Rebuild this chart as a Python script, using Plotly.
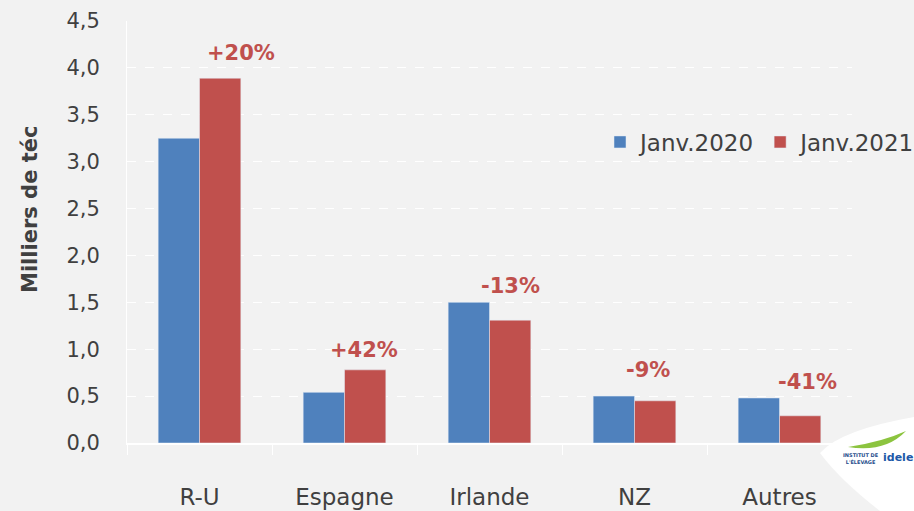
import plotly.graph_objects as go

# --- data ---
pays = ["R-U", "Espagne", "Irlande", "NZ", "Autres"]
janv_2020 = [3.25, 0.54, 1.50, 0.50, 0.48]
janv_2021 = [3.89, 0.78, 1.31, 0.45, 0.29]
evolution = ["+20%", "+42%", "-13%", "-9%", "-41%"]

# label offsets (px) relative to category centre / top of red bar
lab_dx = [41, 19, 21, 13, 28]
lab_dy = [25, 20, 34, 31, 34]

BLUE = "#4f81bd"
RED = "#c0504d"
TXT = "#404040"
FONT = "DejaVu Sans"

fig = go.Figure()
fig.add_trace(go.Bar(x=pays, y=janv_2020, name="Janv.2020", marker_color=BLUE))
fig.add_trace(go.Bar(x=pays, y=janv_2021, name="Janv.2021", marker_color=RED))

for p, v, t, dx, dy in zip(pays, janv_2021, evolution, lab_dx, lab_dy):
    fig.add_annotation(x=p, y=v, text="<b>" + t + "</b>", showarrow=False,
                       xshift=dx, yshift=dy,
                       font=dict(color=RED, size=21, family=FONT))

# plot area in px: x 127..852, y 21..443
def px(x, y):
    return (x - 127) / 725, (443 - y) / 422

# y axis title as annotation (sits a bit above the plot centre)
fig.add_annotation(xref="paper", yref="paper", x=px(30, 210)[0], y=px(30, 210)[1],
                   xanchor="center", yanchor="middle",
                   text="<b>Milliers de téc</b>", textangle=-90, showarrow=False,
                   font=dict(size=21, color=TXT, family=FONT))

# idele logo (rough)
path = "M %f,%f " % px(820, 453)
path += "Q %f,%f %f,%f " % (*px(840, 430), *px(914, 417))
path += "L %f,%f " % px(914, 511)
path += "L %f,%f " % px(880, 511)
path += "Q %f,%f %f,%f Z" % (*px(840, 480), *px(820, 453))
fig.add_shape(type="path", xref="paper", yref="paper", path=path,
              fillcolor="white", line=dict(width=0), layer="above")
swoosh = "M %f,%f Q %f,%f %f,%f Q %f,%f %f,%f Z" % (
    *px(848, 447), *px(882, 442), *px(906, 431),
    *px(885, 453), *px(848, 447))
fig.add_shape(type="path", xref="paper", yref="paper", path=swoosh,
              fillcolor="#8cc43f", line=dict(width=0), layer="above")
fig.add_annotation(xref="paper", yref="paper", x=px(881, 467)[0], y=px(881, 467)[1],
                   text="<b>INSTITUT DE<br>L'ÉLEVAGE</b>", showarrow=False,
                   font=dict(size=5, color="#1f4e8c", family=FONT), xanchor="right")
fig.add_annotation(xref="paper", yref="paper", x=px(881, 466)[0], y=px(881, 466)[1],
                   text="<b>idele</b>", showarrow=False,
                   font=dict(size=11, color="#2058a8", family=FONT), xanchor="left")

fig.update_layout(
    width=914, height=511,
    barmode="group", bargap=0.43, bargroupgap=0,
    plot_bgcolor="#f2f2f2", paper_bgcolor="#f2f2f2",
    separators=", ",
    font=dict(family=FONT, color=TXT, size=20),
    margin=dict(l=127, r=62, t=21, b=68, autoexpand=False),
    showlegend=True,
    legend=dict(orientation="h", xref="container", yref="container",
                x=600 / 914, y=1 - 142 / 511, xanchor="left", yanchor="middle",
                bgcolor="rgba(0,0,0,0)", font=dict(size=23, color=TXT),
                itemwidth=30, tracegroupgap=0),
)
fig.update_yaxes(range=[0, 4.5], dtick=0.5, tickformat=".1f",
                 showgrid=True, gridcolor="white", griddash="dash", gridwidth=1,
                 showline=True, linecolor="white", zeroline=False,
                 ticks="outside", tickcolor="rgba(0,0,0,0)", ticklen=0,
                 ticklabelstandoff=22, tickfont=dict(size=21, color=TXT))
fig.update_xaxes(showline=True, linecolor="white", linewidth=1.5,
                 ticks="outside", tickson="boundaries", tickcolor="white", ticklen=10,
                 ticklabelstandoff=33, tickfont=dict(size=23, color=TXT))

fig.write_html("out.html", config={"displayModeBar": False},
               post_script="document.body.style.margin='0';"
                           "document.body.style.background='#f2f2f2';")
